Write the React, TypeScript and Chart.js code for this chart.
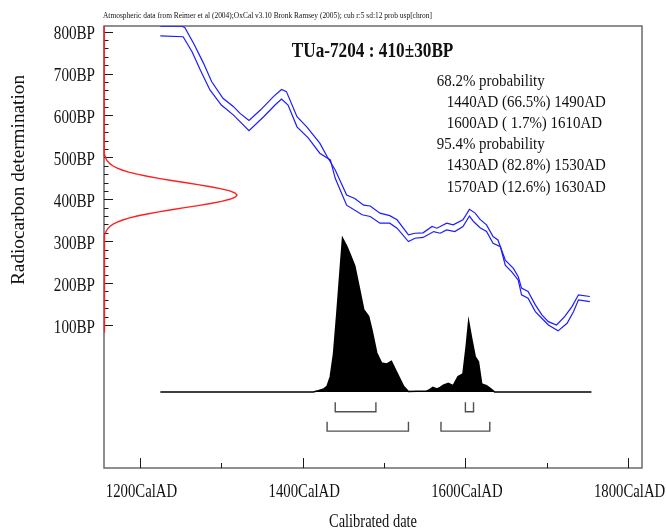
import { useEffect, useRef } from "react";
import { Chart, registerables } from "chart.js";

Chart.register(...registerables);

// ---- Text ----
const HEADER =
  "Atmospheric data from Reimer et al (2004);OxCal v3.10 Bronk Ramsey (2005); cub r:5 sd:12 prob usp[chron]";
const TITLE = "TUa-7204 : 410±30BP";
const X_TITLE = "Calibrated date";
const Y_TITLE = "Radiocarbon determination";
const STATS_LINES = [
  "68.2% probability",
  "  1440AD (66.5%) 1490AD",
  "  1600AD ( 1.7%) 1610AD",
  "95.4% probability",
  "  1430AD (82.8%) 1530AD",
  "  1570AD (12.6%) 1630AD",
];

// ---- Axes ----
const X_MIN = 1155.75;
const X_MAX = 1817.1;
const Y_MIN = -241.3;
const Y_MAX = 813.6;
const P_MIN = -49.4;
const P_MAX = 238.1;
const X_LABEL_TICKS = [1200, 1400, 1600, 1800];
const X_MINOR_TICKS = [1300, 1500, 1700];
const Y_LABEL_TICKS = [100, 200, 300, 400, 500, 600, 700, 800];
const Y_MINOR_STEP = 20;

// ---- Calibration curve (upper / lower 1 sigma) ----
const UPPER_YEARS = [
  1225, 1251, 1255, 1266, 1278, 1288, 1302, 1315, 1323, 1334, 1348, 1364, 1374, 1380, 1393, 1405, 1421,
  1430, 1440, 1454, 1464, 1475, 1483, 1495, 1507, 1516, 1530, 1538, 1548, 1559, 1565, 1577, 1585, 1597,
  1605, 1612, 1618, 1626, 1634, 1640, 1649, 1659, 1665, 1669, 1677, 1686, 1694, 1702, 1712, 1722, 1731,
  1739, 1753,
];
const UPPER_BP = [
  813, 813, 810, 772, 725, 681, 641, 621, 605, 588, 613, 645, 662, 657, 597, 573, 534, 502, 470, 410, 402,
  386, 384, 367, 361, 351, 315, 319, 320, 335, 331, 343, 339, 351, 376, 367, 352, 339, 311, 303, 255, 235,
  215, 188, 180, 148, 124, 108, 100, 120, 144, 172, 168,
];
const LOWER_YEARS = [
  1225, 1253, 1264, 1274, 1286, 1300, 1315, 1334, 1352, 1366, 1374, 1382, 1393, 1407, 1421, 1434, 1440,
  1454, 1473, 1483, 1495, 1507, 1516, 1530, 1538, 1548, 1561, 1569, 1577, 1587, 1597, 1605, 1610, 1618,
  1626, 1634, 1643, 1649, 1657, 1665, 1669, 1677, 1686, 1696, 1702, 1714, 1725, 1733, 1739, 1753,
];
const LOWER_BP = [
  790, 788, 752, 709, 661, 625, 601, 564, 597, 625, 639, 625, 573, 546, 510, 494, 450, 386, 363, 359, 343,
  343, 331, 299, 307, 309, 323, 319, 327, 323, 335, 360, 347, 332, 323, 295, 287, 243, 227, 207, 172, 164,
  132, 112, 100, 86, 104, 132, 160, 156,
];

// ---- Calibrated probability distribution (relative, peak = 100) ----
const PROB_YEARS = [
  1225, 1413, 1420, 1426, 1430, 1434, 1438, 1442, 1446, 1449, 1454, 1458, 1464, 1470, 1475, 1481, 1485,
  1491, 1497, 1503, 1509, 1516, 1524, 1530, 1540, 1552, 1556, 1560, 1565, 1569, 1573, 1579, 1585, 1591,
  1597, 1601, 1604, 1608, 1612, 1616, 1620, 1626, 1632, 1636, 1755,
];
const PROB_VALUES = [
  0, 0, 1, 2, 3.7, 10, 25, 51, 79, 100, 95, 90, 82, 66.6, 53.6, 49.2, 40.6, 25.4, 18.9, 18.2, 20, 12.4,
  3.7, 0.4, 0.5, 0.5, 1.5, 3, 2, 3, 4.4, 5.7, 4.1, 10, 11.7, 29.5, 45.7, 34, 23, 19.7, 5.2, 4.1, 1.8, 0, 0,
];

// ---- Measured radiocarbon date (410 ± 30 BP), drawn along the BP axis ----
const GAUSS_BP = [
  84, 300, 305, 310, 315, 320, 325, 330, 335, 340, 345, 350, 355, 360, 365, 370, 375, 380, 385, 390, 395,
  400, 405, 410, 415, 420, 425, 430, 435, 440, 445, 450, 455, 460, 465, 470, 475, 480, 485, 490, 495, 500,
  505, 510, 515, 520, 813.6,
];
const GAUSS_OFFSET = [
  0, 0.2, 0.35, 0.6, 1.1, 1.8, 2.9, 4.7, 7.2, 10.7, 15.6, 22.1, 30.4, 40.7, 53.1, 67.2, 82.8, 99.2, 115.5,
  131, 144.3, 154.7, 161.2, 163.5, 161.2, 154.7, 144.3, 131, 115.5, 99.2, 82.8, 67.2, 53.1, 40.7, 30.4,
  22.1, 15.6, 10.7, 7.2, 4.7, 2.9, 1.8, 1.1, 0.6, 0.35, 0.2, 0,
];

// ---- Ranges ----
const RANGES_68 = [
  [1440, 1490],
  [1600, 1610],
];
const RANGES_95 = [
  [1430, 1530],
  [1570, 1630],
];

const FONT = '"Liberation Serif", "Times New Roman", serif';
const BLUE = "#1c1cff";
const RED = "#ff1f1f";
const INK = "#111111";

function bracket(range: number[], top: number, bottom: number) {
  return {
    data: [
      { x: range[0], y: top },
      { x: range[0], y: bottom },
      { x: range[1], y: bottom },
      { x: range[1], y: top },
    ],
    yAxisID: "yp",
    borderColor: "#505050",
    borderWidth: 1.4,
    pointRadius: 0,
    fill: false,
    tension: 0,
  };
}

function drawScaled(
  ctx: CanvasRenderingContext2D,
  text: string,
  x: number,
  y: number,
  font: string,
  sx: number,
  align: CanvasTextAlign
) {
  ctx.save();
  ctx.font = font;
  ctx.translate(x, y);
  ctx.scale(sx, 1);
  ctx.textAlign = align;
  ctx.textBaseline = "alphabetic";
  ctx.fillText(text, 0, 0);
  ctx.restore();
}

function drawFit(
  ctx: CanvasRenderingContext2D,
  text: string,
  x: number,
  y: number,
  font: string,
  width: number,
  align: CanvasTextAlign
) {
  ctx.save();
  ctx.font = font;
  const w = ctx.measureText(text).width;
  ctx.restore();
  drawScaled(ctx, text, x, y, font, width / w, align);
}

const decor = {
  id: "decor",
  beforeDatasetsDraw(chart: any) {
    const { ctx, chartArea: a, scales } = chart;
    const xs = scales.x;
    const ys = scales.y;
    ctx.save();
    ctx.strokeStyle = "#6a6a6a";
    ctx.lineWidth = 1.5;
    ctx.strokeRect(a.left, a.top, a.right - a.left, a.bottom - a.top);

    ctx.strokeStyle = "#1a1a1a";
    ctx.lineWidth = 1;
    ctx.beginPath();
    for (const t of xs.ticks) {
      const px = Math.round(xs.getPixelForValue(t.value)) + 0.5;
      const len = X_LABEL_TICKS.includes(t.value) ? 10 : 5;
      ctx.moveTo(px, a.bottom);
      ctx.lineTo(px, a.bottom - len);
    }
    for (const t of ys.ticks) {
      const py = Math.round(ys.getPixelForValue(t.value)) + 0.5;
      const len = Y_LABEL_TICKS.includes(t.value) ? 9 : 4.5;
      ctx.moveTo(a.left, py);
      ctx.lineTo(a.left + len, py);
    }
    ctx.stroke();
    ctx.restore();
  },
  afterDraw(chart: any) {
    const { ctx, chartArea: a, scales } = chart;
    const xs = scales.x;
    const ys = scales.y;
    ctx.save();
    ctx.fillStyle = INK;

    // tick labels
    for (const v of Y_LABEL_TICKS) {
      const py = ys.getPixelForValue(v);
      drawScaled(ctx, `${v}BP`, 95, py + 7.6, `18px ${FONT}`, 0.84, "right");
    }
    for (const v of X_LABEL_TICKS) {
      const px = xs.getPixelForValue(v);
      drawScaled(ctx, `${v}CalAD`, px + 1.5, 496.7, `18px ${FONT}`, 0.82, "center");
    }

    // axis titles
    drawFit(ctx, X_TITLE, (a.left + a.right) / 2, 527, `18px ${FONT}`, 88, "center");
    ctx.save();
    ctx.translate(24, 180);
    ctx.rotate(-Math.PI / 2);
    drawFit(ctx, Y_TITLE, 0, 0, `18px ${FONT}`, 210, "center");
    ctx.restore();

    // header & title
    drawFit(ctx, HEADER, 103, 18, `9px ${FONT}`, 329, "left");
    drawFit(ctx, TITLE, 291.7, 57.3, `bold 21px ${FONT}`, 161.7, "left");

    // stats
    STATS_LINES.forEach((line, i) => {
      const indented = line.startsWith("  ");
      drawScaled(
        ctx,
        line.trim(),
        indented ? 446.7 : 436.7,
        86 + i * 21.1,
        `17px ${FONT}`,
        0.88,
        "left"
      );
    });
    ctx.restore();
  },
};

export default function App() {
  const ref = useRef<HTMLCanvasElement | null>(null);

  useEffect(() => {
    const canvas = ref.current;
    if (!canvas) return;

    const yMinor: number[] = [];
    for (let v = Y_LABEL_TICKS[0]; v <= Y_LABEL_TICKS[Y_LABEL_TICKS.length - 1]; v += Y_MINOR_STEP) yMinor.push(v);

    const chart = new Chart(canvas, {
      type: "line",
      data: {
        datasets: [
          {
            label: "Measured date",
            data: GAUSS_BP.map((bp, i) => ({ x: X_MIN + GAUSS_OFFSET[i], y: bp })),
            yAxisID: "y",
            borderColor: RED,
            borderWidth: 1.4,
            pointRadius: 0,
            fill: false,
            tension: 0,
            clip: false,
          } as any,
          {
            label: "Upper",
            data: UPPER_YEARS.map((x, i) => ({ x, y: UPPER_BP[i] })),
            yAxisID: "y",
            borderColor: BLUE,
            borderWidth: 1.2,
            pointRadius: 0,
            fill: false,
            tension: 0,
          },
          {
            label: "Lower",
            data: LOWER_YEARS.map((x, i) => ({ x, y: LOWER_BP[i] })),
            yAxisID: "y",
            borderColor: BLUE,
            borderWidth: 1.2,
            pointRadius: 0,
            fill: false,
            tension: 0,
          },
          ...RANGES_68.map((r) => bracket(r, -6.7, -12.8)),
          ...RANGES_95.map((r) => bracket(r, -19.3, -25.4)),
          {
            label: "Probability",
            data: PROB_YEARS.map((x, i) => ({ x, y: PROB_VALUES[i] })),
            yAxisID: "yp",
            borderColor: "#000000",
            backgroundColor: "#000000",
            borderWidth: 1.6,
            pointRadius: 0,
            fill: "origin",
            tension: 0,
          },
        ] as any,
      },
      options: {
        responsive: false,
        animation: false,
        events: [],
        layout: { padding: { top: 26, right: 24, left: 0, bottom: 0 } },
        plugins: { legend: { display: false }, tooltip: { enabled: false }, title: { display: false } },
        scales: {
          x: {
            type: "linear",
            min: X_MIN,
            max: X_MAX,
            grid: { display: false },
            border: { display: false },
            ticks: { display: false },
            afterBuildTicks: (s: any) => {
              s.ticks = [...X_LABEL_TICKS, ...X_MINOR_TICKS].sort((p, q) => p - q).map((v) => ({ value: v }));
            },
            afterFit: (s: any) => {
              s.height = 62;
            },
          },
          y: {
            type: "linear",
            position: "left",
            min: Y_MIN,
            max: Y_MAX,
            grid: { display: false },
            border: { display: false },
            ticks: { display: false },
            afterBuildTicks: (s: any) => {
              s.ticks = yMinor.map((v) => ({ value: v }));
            },
            afterFit: (s: any) => {
              s.width = 104;
            },
          },
          yp: {
            type: "linear",
            position: "left",
            min: P_MIN,
            max: P_MAX,
            display: false,
          },
        },
      } as any,
      plugins: [decor],
    });

    return () => chart.destroy();
  }, []);

  return (
    <div style={{ position: "absolute", left: 0, top: 0, width: 666, height: 530, background: "#fff" }}>
      <canvas ref={ref} width={666} height={530} style={{ display: "block" }} />
    </div>
  );
}
